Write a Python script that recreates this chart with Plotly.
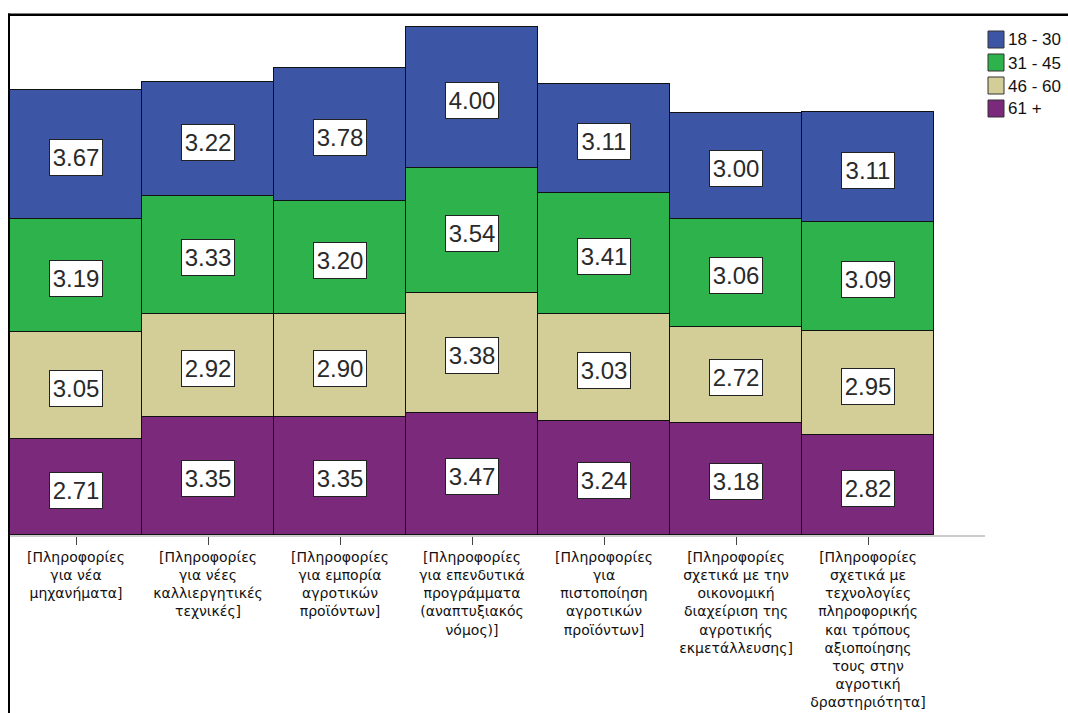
import plotly.graph_objects as go

categories = [
    "[Πληροφορίες<br>για νέα<br>μηχανήματα]",
    "[Πληροφορίες<br>για νέες<br>καλλιεργητικές<br>τεχνικές]",
    "[Πληροφορίες<br>για εμπορία<br>αγροτικών<br>προϊόντων]",
    "[Πληροφορίες<br>για επενδυτικά<br>προγράμματα<br>(αναπτυξιακός<br>νόμος)]",
    "[Πληροφορίες<br>για<br>πιστοποίηση<br>αγροτικών<br>προϊόντων]",
    "[Πληροφορίες<br>σχετικά με την<br>οικονομική<br>διαχείριση της<br>αγροτικής<br>εκμετάλλευσης]",
    "[Πληροφορίες<br>σχετικά με<br>τεχνολογίες<br>πληροφορικής<br>και τρόπους<br>αξιοποίησης<br>τους στην<br>αγροτική<br>δραστηριότητα]",
]

# stacked bottom -> top
age_61 = [2.71, 3.35, 3.35, 3.47, 3.24, 3.18, 2.82]
age_46_60 = [3.05, 2.92, 2.90, 3.38, 3.03, 2.72, 2.95]
age_31_45 = [3.19, 3.33, 3.20, 3.54, 3.41, 3.06, 3.09]
age_18_30 = [3.67, 3.22, 3.78, 4.00, 3.11, 3.00, 3.11]

groups = ["61 +", "46 - 60", "31 - 45", "18 - 30"]
values = [age_61, age_46_60, age_31_45, age_18_30]
colors = ["#7a297b", "#d3ce97", "#2eb24b", "#3c55a5"]

x_idx = list(range(len(categories)))

# plot area in window pixels (body margin is removed below)
W, H = 1068, 713
L, R, T, B = 10, 985, 6, 535
PX_PER_UNIT = 35.3
def px(x): return (x - L) / (R - L)
def py(y): return (B - y) / (B - T)

fig = go.Figure()
for name, vals, col in zip(groups, values, colors):
    fig.add_trace(go.Bar(
        x=x_idx, y=vals, name=name, showlegend=False,
        marker=dict(color=col, line=dict(color="#111111", width=1)),
    ))

# value boxes in the middle of each segment
annotations = []
base = [0.0] * len(categories)
for vals in values:
    for i, v in enumerate(vals):
        annotations.append(dict(
            x=i, y=base[i] + v / 2, xref="x", yref="y",
            text=f"{v:.2f}", showarrow=False,
            font=dict(family="Liberation Sans, Arial", size=24, color="#2a2a2a"),
            bgcolor="white", bordercolor="#222222", borderwidth=1,
            borderpad=1, width=50, height=33, yshift=-3,
        ))
        base[i] += v

# legend drawn by hand: 18 - 30 on top
shapes = []
for k, (name, col) in enumerate(zip(groups[::-1], colors[::-1])):
    top = 31 + 23 * k
    shapes.append(dict(type="rect", xref="paper", yref="paper",
                       x0=px(988), x1=px(1004), y0=py(top + 17), y1=py(top),
                       fillcolor=col, line=dict(color="#333333", width=1)))
    annotations.append(dict(xref="paper", yref="paper", x=px(1006), y=py(top + 9),
                            xanchor="left", yanchor="middle", showarrow=False,
                            text=name,
                            font=dict(family="Liberation Sans, Arial", size=17, color="#111111")))

# outer frame (top and left edges) as thin filled rectangles
shapes.append(dict(type="rect", xref="paper", yref="paper",
                   x0=px(8), x1=px(1068), y0=py(16), y1=py(13.5),
                   fillcolor="black", line=dict(width=0), layer="above"))
shapes.append(dict(type="rect", xref="paper", yref="paper",
                   x0=px(8), x1=px(10), y0=py(713), y1=py(13.5),
                   fillcolor="black", line=dict(width=0), layer="above"))

fig.update_layout(
    barmode="stack",
    bargap=0,
    width=W, height=H,
    margin=dict(l=L, r=W - R, t=T, b=H - B, autoexpand=False),
    plot_bgcolor="white", paper_bgcolor="white",
    font=dict(family="DejaVu Sans", size=14, color="#111111"),
    annotations=annotations,
    shapes=shapes,
    showlegend=False,
    xaxis=dict(
        tickmode="array", tickvals=x_idx, ticktext=categories,
        range=[-0.5, 6.886], automargin=False,
        showline=True, linecolor="#cccccc", linewidth=2,
        ticks="outside", ticklen=8, tickcolor="#444444", tickwidth=1,
        showgrid=False, zeroline=False, tickangle=0,
    ),
    yaxis=dict(
        range=[0, (B - T) / PX_PER_UNIT], visible=False, showgrid=False,
        zeroline=False, automargin=False,
    ),
)

fig.write_html(
    "out.html",
    config={"displayModeBar": False},
    post_script="document.body.style.margin='0px';document.body.style.overflow='hidden';",
)
